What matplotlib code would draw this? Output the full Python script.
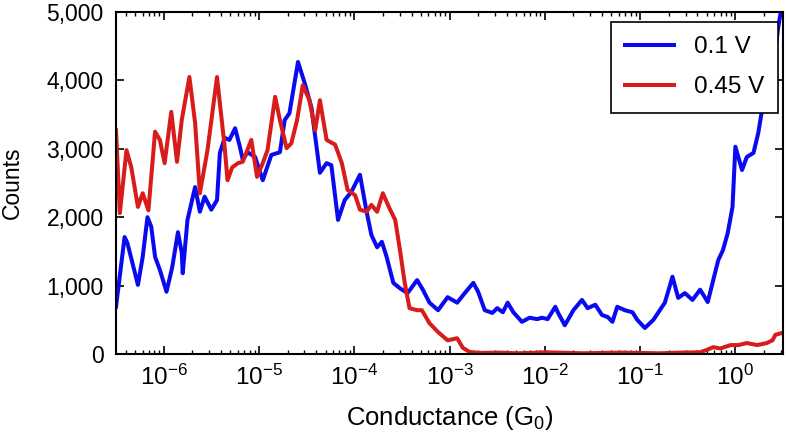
import numpy as np
import matplotlib
matplotlib.use('Agg')
import matplotlib.pyplot as plt
from matplotlib.ticker import FuncFormatter, FixedLocator, LogLocator, NullFormatter

# log10 of conductance (G0) and counts
blue_logg = [-6.50, -6.41, -6.38, -6.27, -6.22, -6.17, -6.13, -6.09, -6.04, -5.97,
             -5.91, -5.85, -5.81, -5.80, -5.75, -5.67, -5.62, -5.57, -5.50, -5.44,
             -5.41, -5.36, -5.31, -5.25, -5.20, -5.17, -5.12, -5.04, -4.96, -4.87,
             -4.78, -4.73, -4.68, -4.59, -4.52, -4.45, -4.36, -4.29, -4.24, -4.17,
             -4.10, -4.03, -3.94, -3.87, -3.82, -3.76, -3.71, -3.66, -3.59, -3.52,
             -3.44, -3.34, -3.28, -3.21, -3.12, -3.02, -2.92, -2.84, -2.75, -2.70,
             -2.63, -2.55, -2.50, -2.44, -2.39, -2.33, -2.24, -2.16, -2.08, -2.03,
             -1.97, -1.89, -1.86, -1.79, -1.70, -1.61, -1.55, -1.47, -1.40, -1.34,
             -1.29, -1.24, -1.16, -1.08, -1.03, -0.95, -0.86, -0.74, -0.66, -0.60,
             -0.53, -0.45, -0.37, -0.29, -0.18, -0.13, -0.08, -0.03, 0.00, 0.07,
             0.12, 0.19, 0.24, 0.28, 0.33, 0.37, 0.42, 0.45, 0.50]
blue_counts = [690, 1710, 1620, 1010, 1420, 2000, 1860, 1420, 1230, 910,
               1270, 1780, 1480, 1180, 1960, 2440, 2080, 2300, 2110, 2250,
               2940, 3160, 3130, 3300, 3030, 2840, 2950, 2880, 2540, 2910,
               2950, 3420, 3520, 4270, 3960, 3610, 2650, 2790, 2760, 1960,
               2250, 2370, 2620, 2080, 1740, 1560, 1640, 1420, 1040, 960,
               890, 1080, 940, 750, 640, 830, 750, 890, 1040, 910,
               640, 600, 670, 610, 750, 610, 470, 530, 510, 530,
               510, 690, 600, 420, 640, 790, 670, 720, 570, 540,
               470, 690, 640, 610, 500, 380, 500, 750, 1130, 820,
               890, 790, 940, 760, 1370, 1520, 1770, 2150, 3030, 2690,
               2880, 2940, 3230, 3570, 3820, 4000, 4440, 4780, 5200]

red_logg = [-6.50, -6.46, -6.39, -6.34, -6.27, -6.22, -6.16, -6.09, -6.04, -5.99,
            -5.92, -5.86, -5.81, -5.73, -5.67, -5.62, -5.54, -5.44, -5.36, -5.33,
            -5.28, -5.22, -5.17, -5.08, -5.02, -4.96, -4.91, -4.83, -4.78, -4.71,
            -4.66, -4.60, -4.54, -4.47, -4.41, -4.36, -4.29, -4.20, -4.13, -4.07,
            -3.99, -3.94, -3.87, -3.82, -3.76, -3.70, -3.63, -3.57, -3.52, -3.47,
            -3.42, -3.34, -3.29, -3.21, -3.12, -3.02, -2.92, -2.86, -2.79, -2.68,
            -2.47, -2.30, -2.16, -2.00, -1.84, -1.60, -1.42, -1.20, -1.00, -0.80,
            -0.58, -0.37, -0.30, -0.23, -0.16, -0.05, 0.03, 0.12, 0.23, 0.33,
            0.39, 0.42, 0.47, 0.50]
red_counts = [3270, 2060, 2980, 2730, 2150, 2350, 2100, 3250, 3130, 2790,
              3540, 2810, 3420, 4050, 3380, 2350, 2980, 4050, 3030, 2540,
              2730, 2790, 2810, 3130, 2590, 2790, 2980, 3760, 3420, 3010,
              3080, 3420, 3930, 3710, 3270, 3710, 3130, 3060, 2790, 2400,
              2320, 2110, 2080, 2180, 2080, 2350, 2130, 1960, 1520, 1040,
              670, 640, 640, 450, 320, 200, 230, 90, 30, 15,
              20, 10, 15, 25, 20, 10, 15, 20, 15, 10,
              20, 25, 60, 100, 80, 130, 130, 160, 130, 160,
              200, 280, 300, 310]

labels = ['0.1 V', '0.45 V']
colors = ['#0a0af0', '#d81c1c']
x_decades = [-6, -5, -4, -3, -2, -1, 0]

plt.rcParams['font.family'] = ['Liberation Sans', 'DejaVu Sans']
plt.rcParams['mathtext.fontset'] = 'custom'
plt.rcParams['mathtext.rm'] = 'Liberation Sans'
plt.rcParams['mathtext.it'] = 'Liberation Sans:italic'

fig = plt.figure(figsize=(7.86, 4.40), dpi=100)
ax = fig.add_axes([0.1476, 0.1955, 0.8486, 0.7772])

ax.plot(10 ** np.array(blue_logg), blue_counts, color=colors[0], lw=2.9,
        label=labels[0], solid_joinstyle='round')
ax.plot(10 ** np.array(red_logg), red_counts, color=colors[1], lw=2.9,
        label=labels[1], solid_joinstyle='round')

ax.set_xscale('log')
ax.set_xlim(10 ** -6.5, 10 ** 0.5)
ax.set_ylim(0, 5000)
ax.set_yticks([0, 1000, 2000, 3000, 4000, 5000])
ax.yaxis.set_major_formatter(FuncFormatter(lambda v, p: f'{int(v):,}'))
ax.xaxis.set_major_locator(FixedLocator([10.0 ** d for d in x_decades]))
ax.xaxis.set_major_formatter(FuncFormatter(lambda v, p: rf'$10^{{{int(round(np.log10(v)))}}}$'))
ax.xaxis.set_minor_locator(LogLocator(base=10, subs=np.arange(2, 10), numticks=20))
ax.xaxis.set_minor_formatter(NullFormatter())

ax.tick_params(which='both', direction='in', top=True, right=True)
ax.tick_params(which='major', length=6, width=1.2)
ax.tick_params(which='minor', length=3, width=1.0)
ax.tick_params(axis='x', pad=8, labelsize=17.5)
ax.tick_params(axis='y', pad=9, labelsize=16.5)
for s in ax.spines.values():
    s.set_linewidth(1.5)

ax.set_xlabel('Conductance (G$_0$)', fontsize=18.5, labelpad=10)
ax.set_ylabel('Counts', fontsize=16.5, labelpad=16)

leg = ax.legend(loc='upper right', bbox_to_anchor=(0.993, 0.972), borderaxespad=0,
                fontsize=17.5, fancybox=False, framealpha=1, edgecolor='black',
                handlelength=2.0, borderpad=0.6, labelspacing=0.75)
leg.get_frame().set_linewidth(1.2)

fig.savefig('out.png', dpi=100)
